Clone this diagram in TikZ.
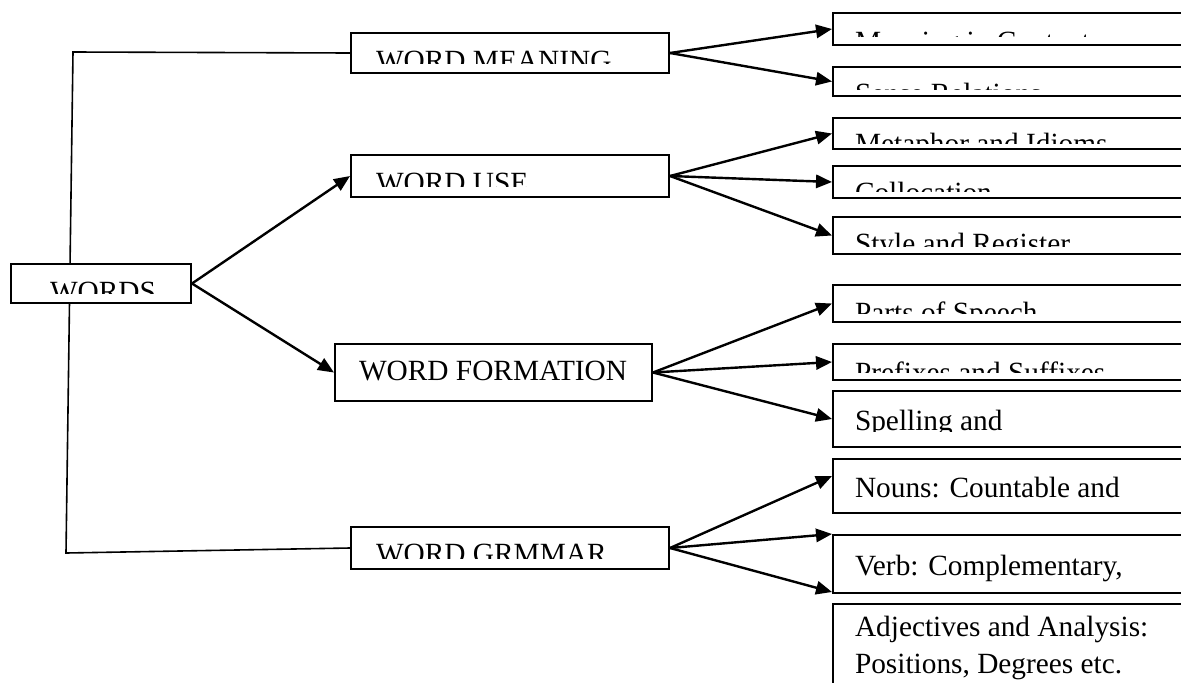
\documentclass[tikz,border=0pt]{standalone}
\usepackage{fontspec}
\setmainfont{Liberation Serif}
\usetikzlibrary{arrows.meta,backgrounds}

\tikzset{
  wfont/.style={font=\fontsize{22}{27.5}\selectfont},
  wbox/.style={draw, line width=1.5pt, fill=white, inner sep=0pt, anchor=north west},
  % text, left offset, baseline offset (last line), clip gap at the bottom
  boxtext/.style n args={4}{path picture={
      \clip ([yshift=#4]path picture bounding box.south west) rectangle (path picture bounding box.north east);
      \node[wfont, draw=none, fill=none, inner sep=0pt, minimum width=0pt, minimum height=0pt,
            anchor=base west, align=left]
        at ([xshift=#2, yshift=-#3]path picture bounding box.north west) {#1};}},
  arr/.style={line width=1.8pt, -{Triangle[length=12pt,width=10pt]}},
}

\begin{document}
\begin{tikzpicture}[x=0.75pt, y=-0.75pt]

\useasboundingbox (0,0) rectangle (1181,682);
\clip (0,0) rectangle (1181,682);

% Main boxes
\node[wbox, minimum width=135pt, minimum height=29.25pt, boxtext={WORDS}{28.5pt}{27.75pt}{7.5pt}] (words) at (10,263) {};
\node[wbox, minimum width=238.5pt, minimum height=30pt, boxtext={WORD MEANING}{18pt}{27.75pt}{7.5pt}] (mean) at (350,32) {};
\node[wbox, minimum width=238.5pt, minimum height=31.5pt, boxtext={WORD USE}{18pt}{27.75pt}{8.25pt}] (use) at (350,154) {};
\node[wbox, minimum width=237.75pt, minimum height=42.75pt, boxtext={WORD FORMATION}{17.25pt}{27pt}{0pt}] (form) at (334,343) {};
\node[wbox, minimum width=238.5pt, minimum height=31.5pt, boxtext={WORD GRMMAR}{18pt}{27pt}{8.25pt}] (gram) at (350,526) {};

% Right column
\node[wbox, minimum width=276pt, minimum height=24pt, boxtext={Meaning in Context}{15.75pt}{28.5pt}{6.75pt}] (mctx) at (832,12) {};
\node[wbox, minimum width=276pt, minimum height=21.75pt, boxtext={Sense Relations}{15.75pt}{27pt}{5.25pt}] (msense) at (832,66) {};
\node[wbox, minimum width=276pt, minimum height=23.25pt, boxtext={Metaphor and Idioms}{15.75pt}{26.25pt}{4.5pt}] (uidiom) at (832,117) {};
\node[wbox, minimum width=276pt, minimum height=24pt, boxtext={Collocation}{15.75pt}{27pt}{5.25pt}] (ucoll) at (832,165) {};
\node[wbox, minimum width=276pt, minimum height=27.75pt, boxtext={Style and Register}{15.75pt}{27pt}{6pt}] (ureg) at (832,216) {};
\node[wbox, minimum width=276pt, minimum height=27.75pt, boxtext={Parts of Speech}{15.75pt}{27.75pt}{6.75pt}] (fparts) at (832,284) {};
\node[wbox, minimum width=276pt, minimum height=27pt, boxtext={Prefixes and Suffixes}{15.75pt}{28.5pt}{6pt}] (faffix) at (832,343) {};
\node[wbox, minimum width=276pt, minimum height=42pt, boxtext={Spelling and}{15.75pt}{29.25pt}{12pt}] (fspell) at (832,390) {};
\node[wbox, minimum width=276pt, minimum height=40.5pt, boxtext={Nouns: Countable and}{15.75pt}{28.5pt}{0pt}] (gnoun) at (832,458) {};
\node[wbox, minimum width=276pt, minimum height=43.5pt, boxtext={Verb: Complementary,}{15.75pt}{30pt}{0pt}] (gverb) at (832,534) {};
\node[wbox, minimum width=276pt, minimum height=87.75pt, boxtext={Adjectives and Analysis:\\Positions, Degrees etc.}{15.75pt}{51.75pt}{0pt}] (gadj) at (832,603) {};

% Plain connectors
\begin{scope}[on background layer]
  \coordinate (c1) at (73,52);
  \coordinate (c2) at (66,553);
  \draw[line width=1.2pt] (mean.west) -- (c1) -- (c2) -- (gram.west);
\end{scope}

% Arrows
\draw[arr] (words.east) -- (use.west);
\draw[arr] (words.east) -- (form.west);
\foreach \t in {mctx,msense}
  \draw[arr] (mean.east) -- (\t.west);
\foreach \t in {uidiom,ucoll,ureg}
  \draw[arr] (use.east) -- (\t.west);
\foreach \t in {fparts,faffix,fspell}
  \draw[arr] (form.east) -- (\t.west);
\draw[arr] (gram.east) -- ([yshift=7.5pt]gnoun.west);
\draw[arr] (gram.east) -- (gverb.north west);
\draw[arr] (gram.east) -- ([yshift=8.25pt]gadj.north west);

\end{tikzpicture}
\end{document}
